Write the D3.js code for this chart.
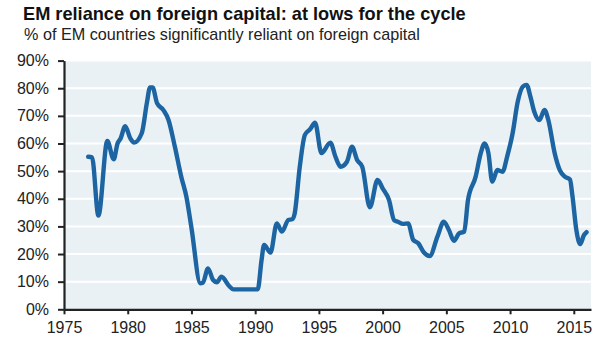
<!DOCTYPE html>
<html>
<head>
<meta charset="utf-8">
<script src="https://cdn.jsdelivr.net/npm/d3@7"></script>
<style>
  html, body { margin: 0; padding: 0; background: #fff; }
  svg { display: block; font-family: "Liberation Sans", Arial, sans-serif; }
</style>
</head>
<body>
<svg id="chart" width="604" height="343"></svg>
<script>
// ---- Data ----
const title = "EM reliance on foreign capital: at lows for the cycle";
const subtitle = "% of EM countries significantly reliant on foreign capital";

const years = [
  1976.9, 1977.2, 1977.7, 1978.4, 1978.9, 1979.2, 1979.45, 1979.8, 1980.2, 1980.5,
  1981.1, 1981.5, 1981.75, 1981.95, 1982.3, 1982.8, 1983.2, 1983.7, 1984.2, 1984.6,
  1985.0, 1985.7, 1985.9, 1986.3, 1986.7, 1987.0, 1987.35, 1988.0, 1988.3, 1990.2,
  1990.5, 1990.7, 1991.2, 1991.7, 1992.1, 1992.6, 1992.9, 1993.1, 1993.5, 1993.9,
  1994.3, 1994.7, 1995.2, 1995.9, 1996.3, 1996.7, 1997.2, 1997.6, 1998.0, 1998.4,
  1999.0, 1999.6, 2000.0, 2000.5, 2000.9, 2001.2, 2001.6, 2002.0, 2002.4, 2002.8,
  2003.2, 2003.7, 2004.3, 2004.8, 2005.2, 2005.6, 2006.0, 2006.4, 2006.7, 2007.3,
  2007.7, 2008.0, 2008.3, 2008.6, 2009.0, 2009.4, 2009.8, 2010.2, 2010.6, 2011.0,
  2011.3, 2011.6, 2011.9, 2012.3, 2012.7, 2013.0, 2013.5, 2013.9, 2014.3, 2014.7,
  2014.9, 2015.2, 2015.5, 2015.8, 2016.0
];
const values = [
  55.2, 55.0, 33.9, 60.9, 54.3, 60.0, 61.9, 66.3, 61.9, 60.3,
  63.7, 74.6, 80.3, 80.3, 74.6, 72.1, 68.5, 58.8, 48.0, 40.8,
  29.5, 9.4, 9.6, 14.8, 10.6, 9.8, 11.8, 8.2, 7.2, 7.2,
  17.8, 23.3, 20.5, 31.1, 28.1, 32.3, 32.6, 34.7, 51.6, 63.1,
  65.1, 67.5, 56.5, 60.3, 55.2, 51.6, 53.4, 58.8, 54.0, 51.6,
  36.9, 46.8, 43.8, 39.6, 32.3, 31.7, 30.9, 31.1, 25.1, 23.9,
  20.8, 19.3, 26.3, 31.7, 28.7, 24.8, 27.5, 28.1, 39.6, 48.0,
  56.5, 60.0, 56.5, 46.2, 50.4, 49.8, 55.8, 63.7, 75.1, 80.6,
  81.2, 76.9, 71.5, 68.5, 72.1, 68.5, 56.5, 50.4, 48.0, 47.0,
  40.8, 28.7, 23.6, 26.9, 27.9
];
const xTicks = [1975, 1980, 1985, 1990, 1995, 2000, 2005, 2010, 2015];
const yTicks = [0, 10, 20, 30, 40, 50, 60, 70, 80, 90];

// ---- Layout ----
const svg = d3.select("#chart");
const pLeft = 64, pRight = 591, pTop = 60.6, pBottom = 309.3;

const x = d3.scaleLinear().domain([1975, 2016.35]).range([pLeft, pRight]);
const y = d3.scaleLinear().domain([0, 90]).range([pBottom, pTop]);

// Titles
svg.append("text")
  .attr("x", 23).attr("y", 20)
  .attr("font-size", 18.2).attr("font-weight", "bold").attr("fill", "#111")
  .text(title);
svg.append("text")
  .attr("x", 24).attr("y", 39.5)
  .attr("font-size", 16.2).attr("fill", "#222")
  .text(subtitle);

// Plot background
svg.append("rect")
  .attr("x", pLeft).attr("y", pTop)
  .attr("width", pRight - pLeft).attr("height", pBottom - pTop)
  .attr("fill", "#e9f1f5");

// Gridlines
svg.append("g").selectAll("line")
  .data(yTicks.filter(d => d > 0))
  .join("line")
  .attr("x1", pLeft).attr("x2", pRight)
  .attr("y1", d => y(d)).attr("y2", d => y(d))
  .attr("stroke", "#fff").attr("stroke-width", 2);

// Line
const pts = years.map((yr, i) => [yr, values[i]]);
svg.append("path")
  .datum(pts)
  .attr("fill", "none")
  .attr("stroke", "#1d64a2")
  .attr("stroke-width", 4.4)
  .attr("stroke-linejoin", "round")
  .attr("stroke-linecap", "round")
  .attr("d", d3.line().x(d => x(d[0])).y(d => y(d[1])).curve(d3.curveMonotoneX));

// Y axis
const yAxis = svg.append("g")
  .attr("transform", `translate(${pLeft},0)`)
  .call(d3.axisLeft(y).tickValues(yTicks).tickFormat(d => d + "%").tickSize(6).tickSizeOuter(0).tickPadding(9));
// X axis
const xAxis = svg.append("g")
  .attr("transform", `translate(0,${pBottom})`)
  .call(d3.axisBottom(x).tickValues(xTicks).tickFormat(d3.format("d")).tickSize(5).tickSizeOuter(0).tickPadding(7));

[yAxis, xAxis].forEach(g => {
  g.select(".domain").attr("stroke", "#222").attr("stroke-width", 2.2);
  g.selectAll(".tick line").attr("stroke", "#222").attr("stroke-width", 2);
  g.selectAll(".tick text").attr("fill", "#222").attr("font-family", "Liberation Sans, Arial, sans-serif");
});
yAxis.selectAll(".tick text").attr("font-size", 16);
xAxis.selectAll(".tick text").attr("font-size", 16);
</script>
</body>
</html>
